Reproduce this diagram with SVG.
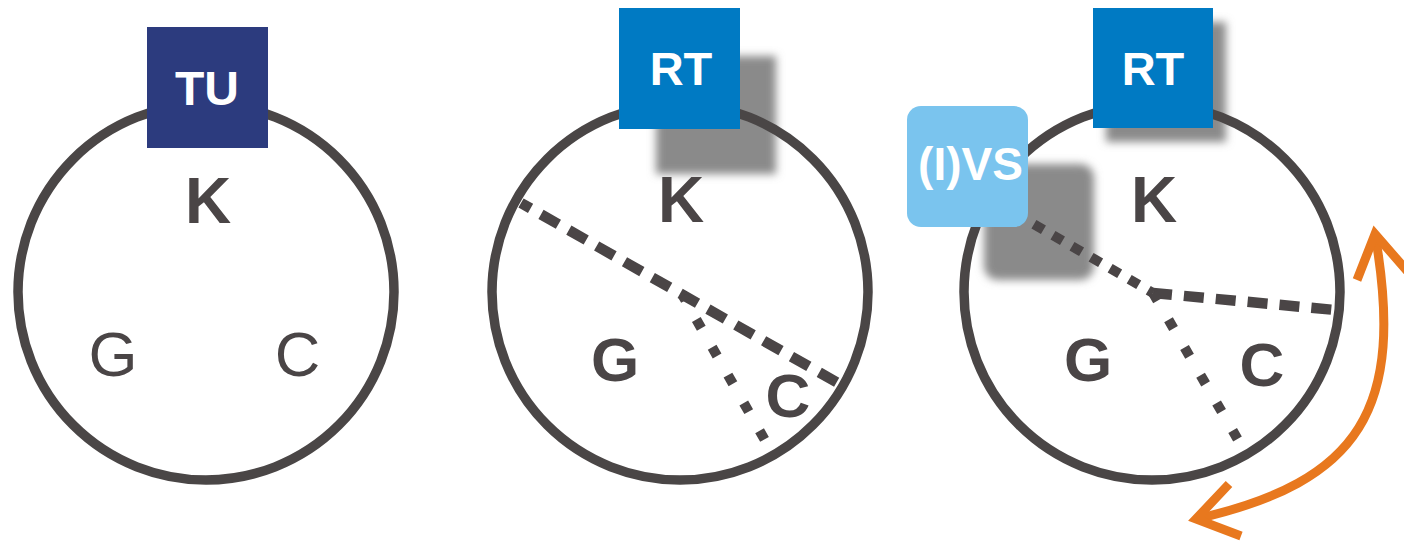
<svg xmlns="http://www.w3.org/2000/svg" width="1404" height="543" viewBox="0 0 1404 543">
<defs>
<filter id="blur" x="-20%" y="-20%" width="140%" height="140%"><feGaussianBlur stdDeviation="4"/></filter>
<style>
.ring{fill:none;stroke:#4a4646;stroke-width:9.5}
.shadow{fill:#8a8a8a;filter:url(#blur)}
.dash{fill:none;stroke:#4a4546;stroke-width:10.5;stroke-dasharray:20 12}
.dot{fill:none;stroke:#4a4546;stroke-width:10;stroke-dasharray:10 22}
.dot2{fill:none;stroke:#4a4546;stroke-width:10;stroke-dasharray:11 11}
.lbl{font-family:"Liberation Sans",Arial,sans-serif;fill:#4a4546;text-anchor:middle}
.b{font-weight:bold}
.box{font-family:"Liberation Sans",Arial,sans-serif;fill:#ffffff;font-weight:bold;text-anchor:middle}
.orange{fill:none;stroke:#e8781e;stroke-width:9}
</style>
</defs>
<rect width="1404" height="543" fill="#ffffff"/>

<g id="shadows">
<rect class="shadow" x="656" y="56" width="120" height="118"/>
<rect class="shadow" x="1106" y="22" width="120" height="120"/>
<rect class="shadow" x="984" y="164" width="110" height="116" rx="14"/>
</g>

<g id="circle1">
<circle class="ring" cx="206" cy="292" r="188"/>
<text class="lbl b" x="208" y="223" font-size="64">K</text>
<text class="lbl" x="113" y="376" font-size="63">G</text>
<text class="lbl" x="297.5" y="376" font-size="63">C</text>
</g>

<g id="circle2">
<circle class="ring" cx="680" cy="292" r="188"/>
<text class="lbl b" x="681" y="222" font-size="64">K</text>
<text class="lbl b" x="615" y="381" font-size="62">G</text>
<text class="lbl b" x="788" y="417" font-size="62">C</text>
</g>

<g id="circle3">
<circle class="ring" cx="1152" cy="292" r="188"/>
<text class="lbl b" x="1154" y="222" font-size="64">K</text>
<text class="lbl b" x="1088" y="381" font-size="62">G</text>
<text class="lbl b" x="1262" y="386" font-size="62">C</text>
</g>

<g id="connectors">
<path class="dash" d="M521,203 L838,383" stroke-dashoffset="9"/>
<path class="dot" d="M683,296 L764.5,439.4" stroke-dashoffset="5"/>
<path class="dash" d="M1153,293 L1335,310" stroke-dashoffset="1"/>
<path class="dot2" d="M1153,293 L1030,222" stroke-dashoffset="5.5"/>
<path class="dot" d="M1153,293 L1237.5,439" stroke-dashoffset="1"/>
<path class="orange" d="M1375,234 C1405.3,408.4 1360.9,481.6 1196,519"/>
<path class="orange" d="M1357,280 L1375,234 L1408,272" stroke-linejoin="miter"/>
<path class="orange" d="M1229,484 L1196,519 L1241,536" stroke-linejoin="miter"/>
</g>

<g id="TU">
<rect x="147" y="27" width="121" height="121" fill="#2c3b7e"/>
<text class="box" x="207" y="105" font-size="48">TU</text>
</g>
<g id="RT1">
<rect x="619" y="8" width="121" height="121" fill="#007ac3"/>
<text class="box" x="681" y="85" font-size="47">RT</text>
</g>
<g id="RT2">
<rect x="1093" y="8" width="120" height="120" fill="#007ac3"/>
<text class="box" x="1153" y="85" font-size="47">RT</text>
</g>
<g id="IVS">
<rect x="907" y="106" width="121" height="121" rx="14" fill="#7ac4ee"/>
<text class="box" x="970.5" y="180" font-size="46">(I)VS</text>
</g>
</svg>
